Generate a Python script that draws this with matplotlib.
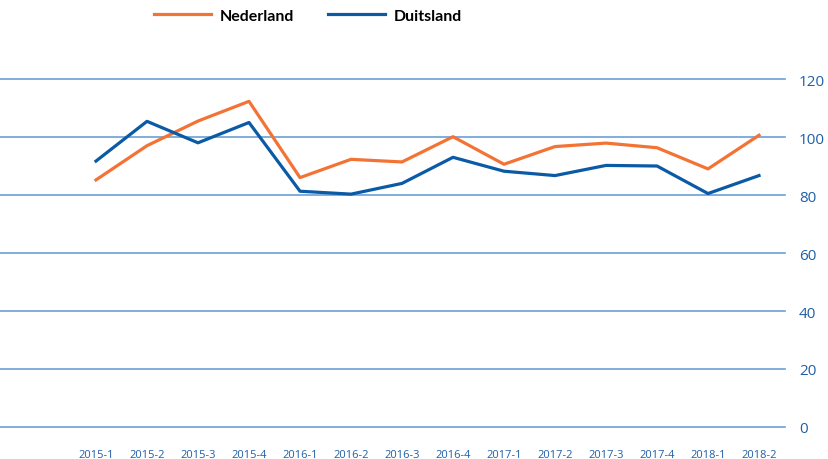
import matplotlib.pyplot as plt
import numpy as np

quarters = ["2015-1", "2015-2", "2015-3", "2015-4", "2016-1", "2016-2", "2016-3",
            "2016-4", "2017-1", "2017-2", "2017-3", "2017-4", "2018-1", "2018-2"]
nederland = [85.2, 97.0, 105.5, 112.3, 86.0, 92.3, 91.4, 100.1, 90.6, 96.7, 97.9, 96.3, 89.0, 100.6]
duitsland = [91.7, 105.4, 98.0, 105.0, 81.3, 80.3, 84.0, 93.0, 88.2, 86.7, 90.2, 90.0, 80.5, 86.7]
yticks = [0, 20, 40, 60, 80, 100, 120]

orange = "#F37335"
blue = "#0B5AA6"
grid_blue = "#6A9FD4"
label_blue = "#1F5FA8"

fig = plt.figure(figsize=(8.29, 4.60), dpi=100)
ax = fig.add_axes([0.0, 32 / 460, 785 / 829, 348 / 460])

x = np.arange(len(quarters))
ax.plot(x, nederland, color=orange, linewidth=2.3, label="Nederland", zorder=3)
ax.plot(x, duitsland, color=blue, linewidth=2.3, label="Duitsland", zorder=3)

ax.set_xlim(-96 / 51, (785 - 96) / 51)
ax.set_ylim(0, 120)
ax.set_yticks(yticks)
ax.yaxis.tick_right()
ax.tick_params(axis="y", length=0, pad=10, labelsize=11, labelcolor=label_blue)
ax.set_xticks(x)
ax.set_xticklabels(quarters)
ax.tick_params(axis="x", length=0, pad=16, labelsize=8, labelcolor=label_blue)
for lbl in ax.get_xticklabels() + ax.get_yticklabels():
    lbl.set_fontfamily("Open Sans")

for y in yticks:
    ax.axhline(y, color=grid_blue, linewidth=1.2, zorder=1, clip_on=False)

for s in ax.spines.values():
    s.set_visible(False)

fig.legend(loc="upper left", bbox_to_anchor=(140 / 829, 1.01), ncol=2, frameon=False,
           handlelength=3.55, handletextpad=0.56, columnspacing=2.1,
           prop={"family": "Lato", "weight": "bold", "size": 11.5})

fig.savefig("out.png", dpi=100)
